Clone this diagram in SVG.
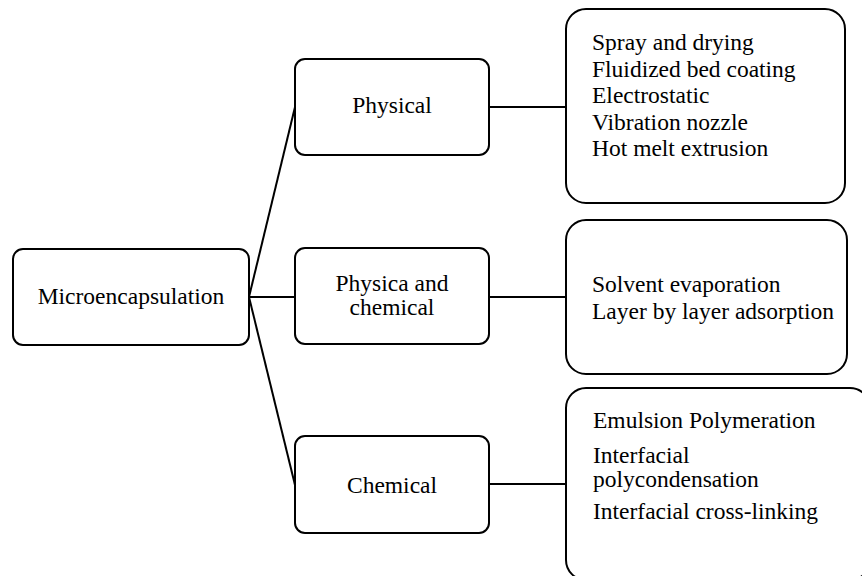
<svg xmlns="http://www.w3.org/2000/svg" width="862" height="576" viewBox="0 0 862 576">
<style>
.box{fill:#fff;stroke:#000;stroke-width:2}
.t{font-family:"Liberation Serif","Times New Roman",serif;font-size:23.5px;fill:#000}
.c{text-anchor:middle}
.con{stroke:#000;stroke-width:2;fill:none}
</style>
<rect width="862" height="576" fill="#fff"/>
<g id="connectors">
<line class="con" x1="249" y1="297" x2="295" y2="107"/>
<line class="con" x1="249" y1="297" x2="295" y2="297"/>
<line class="con" x1="249" y1="297" x2="295" y2="485"/>
<line class="con" x1="489" y1="107" x2="566" y2="107"/>
<line class="con" x1="489" y1="297" x2="566" y2="297"/>
<line class="con" x1="489" y1="484" x2="566" y2="484"/>
</g>
<g id="microencapsulation">
<rect class="box" x="13" y="249" width="236" height="96" rx="10"/>
<text class="t c" x="131" y="304">Microencapsulation</text>
</g>
<g id="physical">
<rect class="box" x="295" y="59" width="194" height="96" rx="10"/>
<text class="t c" x="392" y="113">Physical</text>
</g>
<g id="physica-chemical">
<rect class="box" x="295" y="248" width="194" height="96" rx="10"/>
<text class="t c" x="392" y="291">Physica and</text>
<text class="t c" x="392" y="315">chemical</text>
</g>
<g id="chemical">
<rect class="box" x="295" y="436" width="194" height="97" rx="10"/>
<text class="t c" x="392" y="493">Chemical</text>
</g>
<g id="physical-methods">
<rect class="box" x="566" y="9" width="279" height="194" rx="20"/>
<text class="t" x="592" y="50">Spray and drying</text>
<text class="t" x="592" y="76.5">Fluidized bed coating</text>
<text class="t" x="592" y="103">Electrostatic</text>
<text class="t" x="592" y="129.5">Vibration nozzle</text>
<text class="t" x="592" y="156">Hot melt extrusion</text>
</g>
<g id="physchem-methods">
<rect class="box" x="566" y="220" width="281" height="154" rx="20"/>
<text class="t" x="592" y="292">Solvent evaporation</text>
<text class="t" x="592" y="319">Layer by layer adsorption</text>
</g>
<g id="chemical-methods">
<rect class="box" x="566" y="388" width="304" height="192" rx="20"/>
<text class="t" x="593" y="428">Emulsion Polymeration</text>
<text class="t" x="593" y="463">Interfacial</text>
<text class="t" x="593" y="487">polycondensation</text>
<text class="t" x="593" y="519">Interfacial cross-linking</text>
</g>
</svg>
